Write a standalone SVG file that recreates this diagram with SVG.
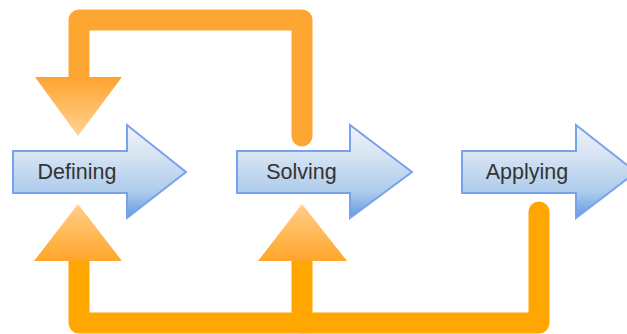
<svg xmlns="http://www.w3.org/2000/svg" width="627" height="334" viewBox="0 0 627 334">
  <defs>
    <linearGradient id="blueFill" x1="0" y1="0" x2="0" y2="1">
      <stop offset="0" stop-color="#eef3f9"/>
      <stop offset="0.3" stop-color="#d9e5f3"/>
      <stop offset="0.72" stop-color="#aecbec"/>
      <stop offset="1" stop-color="#5f9be3"/>
    </linearGradient>
    <linearGradient id="orangeDown" x1="0" y1="0" x2="0" y2="1">
      <stop offset="0" stop-color="#ffa330"/>
      <stop offset="1" stop-color="#ffd394"/>
    </linearGradient>
    <linearGradient id="orangeUp" x1="0" y1="1" x2="0" y2="0">
      <stop offset="0" stop-color="#ffa52a"/>
      <stop offset="1" stop-color="#ffcf8a"/>
    </linearGradient>
    <style>
      .step { fill: url(#blueFill); stroke: #78a3ea; stroke-width: 2; stroke-linejoin: miter; }
      .label { font-family: "Liberation Sans", Arial, sans-serif; font-size: 21.5px; fill: #333333; text-anchor: middle; }
      .loop-top { fill: none; stroke: #fea632; stroke-width: 21; stroke-linejoin: round; stroke-linecap: round; }
      .loop-bottom { fill: none; stroke: #ffa600; stroke-width: 21; stroke-linejoin: round; stroke-linecap: round; }
      .head-down { fill: url(#orangeDown); }
      .head-up { fill: url(#orangeUp); }
    </style>
  </defs>

  <!-- feedback connectors -->
  <g id="connectors">
    <path class="loop-top" d="M302 136 L302 20 L79 20 L79 80"/>
    <polygon class="head-down" points="35,77 122,77 78,136"/>
    <path class="loop-bottom" d="M539 212 L539 323 L79 323 L79 258"/>
    <path class="loop-bottom" d="M302 323 L302 258" stroke-linecap="butt"/>
    <polygon class="head-up" points="34,261 122,261 78,204"/>
    <polygon class="head-up" points="258,261 347,261 302,204"/>
  </g>

  <!-- process steps -->
  <g id="defining">
    <path class="step" d="M13 151 L127 151 L127 125 L186 172 L127 218 L127 193 L13 193 Z"/>
    <text class="label" x="77" y="179">Defining</text>
  </g>
  <g id="solving">
    <path class="step" d="M237 151 L350 151 L350 125 L412 172 L350 218 L350 193 L237 193 Z"/>
    <text class="label" x="301.5" y="179">Solving</text>
  </g>
  <g id="applying">
    <path class="step" d="M462 151 L576 151 L576 125 L636 172 L576 218 L576 193 L462 193 Z"/>
    <text class="label" x="527" y="179">Applying</text>
  </g>
</svg>
